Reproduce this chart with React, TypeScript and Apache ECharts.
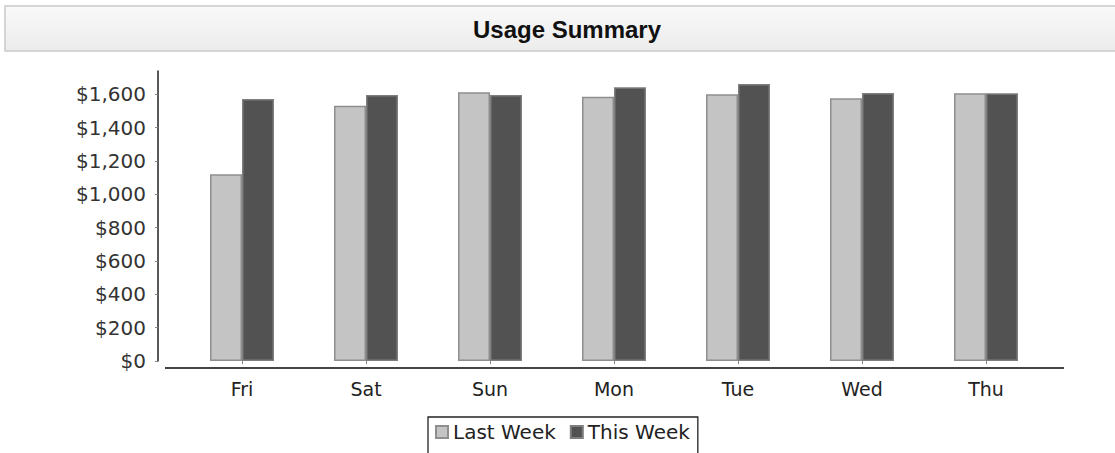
import React, { useEffect, useRef } from "react";
import * as echarts from "echarts";

const categories = ["Fri", "Sat", "Sun", "Mon", "Tue", "Wed", "Thu"];
const lastWeek = [1120, 1532, 1612, 1586, 1600, 1576, 1606];
const thisWeek = [1572, 1596, 1596, 1642, 1662, 1608, 1606];
const yTicks = [0, 200, 400, 600, 800, 1000, 1200, 1400, 1600];
const yMax = 1740;
const title = "Usage Summary";
const seriesNames = ["Last Week", "This Week"];

const FONT = "'DejaVu Sans', sans-serif";

export default function App() {
  const ref = useRef<HTMLDivElement>(null);
  useEffect(() => {
    if (!ref.current) return;
    const chart = echarts.init(ref.current, undefined, { renderer: "svg" });
    const fmt = (v: number) => "$" + v.toLocaleString("en-US");
    chart.setOption({
      animation: false,
      backgroundColor: "#ffffff",
      graphic: [
        {
          type: "rect",
          shape: { x: 5, y: 6, width: 1124, height: 45 },
          style: {
            fill: new echarts.graphic.LinearGradient(0, 0, 0, 1, [
              { offset: 0, color: "#f9f9f9" },
              { offset: 1, color: "#ececec" },
            ]),
            stroke: "#c9c9c9",
            lineWidth: 1.5,
          },
          z: 0,
        },
        {
          type: "text",
          x: 567,
          y: 29,
          style: {
            text: title,
            fontFamily: "'Liberation Sans', Arial, sans-serif",
            fontWeight: "bold",
            fontSize: 24,
            fill: "#111",
            align: "center",
            verticalAlign: "middle",
          },
          z: 1,
        },
        {
          type: "line",
          shape: { x1: 165, y1: 368, x2: 1064, y2: 368 },
          style: { stroke: "#444", lineWidth: 2 },
          z: 5,
        },
      ],
      grid: { left: 180, width: 868, top: 71, bottom: 92, containLabel: false },
      legend: {
        data: seriesNames,
        left: 428,
        top: 417,
        orient: "horizontal",
        icon: "rect",
        itemWidth: 12,
        itemHeight: 12,
        itemGap: 14,
        padding: [5, 8, 16, 7],
        borderColor: "#222",
        borderWidth: 1.3,
        textStyle: { fontFamily: FONT, fontSize: 20, color: "#222" },
      },
      xAxis: {
        type: "category",
        data: categories,
        offset: 7,
        axisLine: { show: false },
        axisTick: {
          show: true,
          alignWithLabel: true,
          length: 3,
          lineStyle: { color: "#888" },
        },
        axisLabel: { fontFamily: FONT, fontSize: 19, color: "#222", margin: 11 },
      },
      yAxis: {
        type: "value",
        min: 0,
        max: yMax,
        interval: 200,
        offset: 22,
        splitLine: { show: false },
        axisLine: { show: true, lineStyle: { color: "#222", width: 1.5 } },
        axisTick: {
          show: true,
          length: 3,
          customValues: yTicks,
          lineStyle: { color: "#888" },
        },
        axisLabel: {
          fontFamily: FONT,
          fontSize: 20,
          color: "#333",
          margin: 12,
          customValues: yTicks,
          formatter: fmt,
        },
      },
      series: [
        {
          name: seriesNames[0],
          type: "bar",
          data: lastWeek,
          barWidth: 32,
          barGap: "0%",
          itemStyle: { color: "#c4c4c4", borderColor: "#8e8e8e", borderWidth: 1.5 },
        },
        {
          name: seriesNames[1],
          type: "bar",
          data: thisWeek,
          barWidth: 32,
          barGap: "0%",
          itemStyle: { color: "#525252", borderColor: "#7e7e7e", borderWidth: 1.5 },
        },
      ],
    });
    return () => chart.dispose();
  }, []);
  return (
    <div
      ref={ref}
      style={{ position: "fixed", left: 0, top: 0, width: 1115, height: 453 }}
    />
  );
}
